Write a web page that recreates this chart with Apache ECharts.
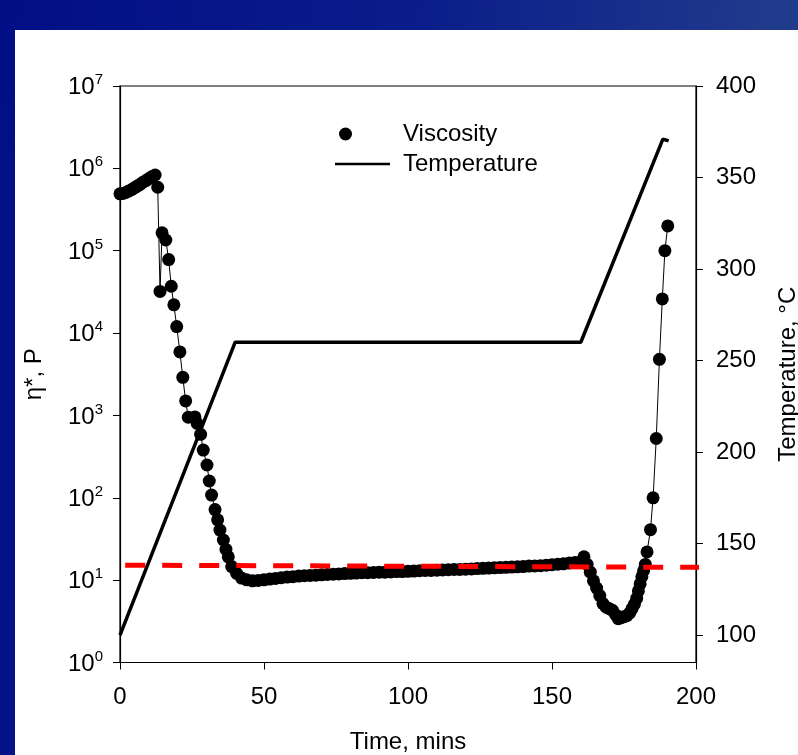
<!DOCTYPE html>
<html>
<head>
<meta charset="utf-8">
<script src="https://cdn.jsdelivr.net/npm/echarts@6/dist/echarts.min.js"></script>
<style>
html, body { margin: 0; padding: 0; }
#wrap { position: relative; width: 798px; height: 755px; background: linear-gradient(100deg, #020e86 0%, #0a1d8a 45%, #2a478c 100%); }
#panel { position: absolute; left: 15px; top: 30px; width: 783px; height: 725px; background: #fff; }
#main { position: absolute; left: 0; top: 0; width: 798px; height: 755px; }
</style>
</head>
<body>
<div id="wrap"><div id="panel"></div><div id="main"></div></div>
<script>
// viscosity (P) vs time (min)
var viscTime = [0, 1, 2, 3, 4, 5, 6, 7, 8, 9, 10, 11, 12.2, 13.1, 13.9, 14.6, 15.9, 16.9, 17.8, 18.7, 19.7,
  20.8, 21.8, 22.8, 23.7, 26.0, 26.8, 28.0, 28.9, 30.2, 31.0, 31.8, 33.0, 33.9, 34.7, 35.9, 36.8, 37.6,
  38.8, 40.5, 42.2, 44, 46, 48, 50, 52, 54, 56, 58, 60, 62, 64, 66, 68, 70, 72, 74, 76, 78, 80, 82, 84,
  86, 88, 90, 92, 94, 96, 98, 100, 102, 104, 106, 108, 110, 112, 114, 116, 118, 120, 122, 124, 126, 128,
  130, 132, 134, 136, 138, 140, 142, 144, 146, 148, 150, 152, 154, 156, 158, 160, 161.1, 162.2, 163.3,
  164.4, 165.5, 166.6, 167.7, 168.8, 169.9, 171.0, 172.1, 173.0, 174.0, 175.0, 176.0, 177.0, 177.8,
  178.6, 179.4, 180.0, 180.6, 181.2, 181.8, 182.4, 183.0, 184.2, 185.1, 186.2, 187.3, 188.3, 189.2, 190.2];
var viscValue = [4.9e5, 4.95e5, 5.1e5, 5.3e5, 5.5e5, 5.8e5, 6.1e5, 6.4e5, 6.8e5, 7.1e5, 7.5e5, 7.9e5, 8.3e5,
  5.9e5, 3.2e4, 1.65e5, 1.35e5, 7.8e4, 3.7e4, 2.2e4, 1.2e4,
  5.9e3, 2.9e3, 1.5e3, 950, 960, 800, 590, 380, 250, 160, 108, 72, 54, 40.5, 30.7, 23.6, 19.2,
  14.6, 12.1, 10.6, 10.1, 9.8, 9.9, 10.1, 10.3, 10.5, 10.7, 10.9, 11.0, 11.2, 11.3, 11.4, 11.5, 11.6, 11.7, 11.8, 11.9, 12.0, 12.1, 12.2, 12.3,
  12.3, 12.4, 12.5, 12.5, 12.6, 12.7, 12.7, 12.8, 12.9, 13.0, 13.1, 13.1, 13.2, 13.3, 13.4, 13.5, 13.5, 13.6, 13.7, 13.8, 13.9, 14.0,
  14.1, 14.2, 14.3, 14.4, 14.5, 14.6, 14.8, 14.9, 15.0, 15.2, 15.4, 15.6, 15.8, 16.1, 16.4, 16.8, 19.2, 15.5, 12.5,
  9.8, 8.0, 6.5, 5.2, 4.7, 4.5, 4.3, 3.8, 3.4, 3.5, 3.6, 3.7, 4.0, 4.5,
  5.1, 6.0, 7.4, 9.0, 11.0, 13.0, 15.5, 22, 41, 100, 525, 4800, 26000, 1.0e5, 2.0e5];

// temperature (°C) vs time (min)
var tempTime = [0, 40, 160, 188.5, 190.5];
var tempValue = [100, 260, 260, 371, 370];

// red dashed reference line
var refTime = [1.8, 201.5];
var refValue = [15.2, 14.3];

var xTicks = [0, 50, 100, 150, 200];
var tempTicks = [100, 150, 200, 250, 300, 350, 400];

var FONT = 'Liberation Sans';

function pairs(xs, ys) {
  var out = [];
  for (var i = 0; i < xs.length; i++) out.push([xs[i], ys[i]]);
  return out;
}

var chart = echarts.init(document.getElementById('main'), null, { renderer: 'canvas' });

var option = {
  animation: false,
  backgroundColor: 'transparent',
  textStyle: { fontFamily: FONT, color: '#000' },
  grid: { left: 120, right: 102, top: 86, bottom: 92.5, outerBoundsMode: 'none', containLabel: false,
    show: true, borderColor: '#000', borderWidth: 1.2, backgroundColor: 'transparent' },
  legend: [
    {
      data: [{ name: 'Viscosity', icon: 'circle' }],
      left: 339, top: 122, padding: 0, itemWidth: 13, itemHeight: 13, selectedMode: false,
      textStyle: { fontSize: 24, fontFamily: FONT, color: '#000', padding: [0, 0, 0, 46] }
    },
    {
      data: [{ name: 'Temperature', icon: 'rect' }],
      left: 335, top: 152, padding: 0, itemWidth: 55, itemHeight: 2.5, selectedMode: false,
      itemStyle: { color: '#000', borderWidth: 0 },
      textStyle: { fontSize: 24, fontFamily: FONT, color: '#000', padding: [0, 0, 0, 8] }
    }
  ],
  xAxis: {
    type: 'value', min: 0, max: 200, interval: 50,
    name: 'Time, mins', nameLocation: 'middle', nameGap: 68,
    nameTextStyle: { fontSize: 24, fontFamily: FONT, color: '#000' },
    axisLine: { lineStyle: { color: '#000', width: 1.2 } },
    axisTick: { length: 7, lineStyle: { color: '#000' } },
    axisLabel: { fontSize: 24, fontFamily: FONT, color: '#000', margin: 23,
      customValues: xTicks },
    splitLine: { show: false }
  },
  yAxis: [
    {
      type: 'log', logBase: 10, min: 1, max: 1e7, position: 'left',
      name: 'η*, P', nameLocation: 'middle', nameGap: 74,
      nameTextStyle: { fontSize: 24, fontFamily: FONT, color: '#000' },
      axisLine: { show: true, lineStyle: { color: '#000', width: 1.2 } },
      axisTick: { show: true, length: 7, lineStyle: { color: '#000' } },
      minorTick: { show: false },
      splitLine: { show: false },
      axisLabel: {
        margin: 17, color: '#000',
        formatter: function (v) {
          var e = Math.round(Math.log(v) / Math.LN10);
          return '{b|10}{s|' + e + '}';
        },
        rich: {
          b: { fontSize: 24, fontFamily: FONT, color: '#000', verticalAlign: 'bottom', lineHeight: 27 },
          s: { fontSize: 15, fontFamily: FONT, color: '#000', verticalAlign: 'top', lineHeight: 15 }
        }
      }
    },
    {
      type: 'value', min: 85, max: 400, position: 'right',
      name: 'Temperature, °C', nameLocation: 'middle', nameGap: 80,
      nameTextStyle: { fontSize: 24, fontFamily: FONT, color: '#000' },
      axisLine: { show: true, lineStyle: { color: '#000', width: 1.2 } },
      axisTick: { show: true, length: 7, lineStyle: { color: '#000' }, customValues: tempTicks },
      axisLabel: { fontSize: 24, fontFamily: FONT, color: '#000', margin: 20, customValues: tempTicks },
      splitLine: { show: false }
    }
  ],
  series: [
    {
      name: 'Temperature', type: 'line', yAxisIndex: 1,
      data: pairs(tempTime, tempValue),
      symbol: 'none', lineStyle: { color: '#000', width: 3.5 }, itemStyle: { color: '#000' },
      z: 2
    },
    {
      name: 'Viscosity', type: 'line', yAxisIndex: 0,
      data: pairs(viscTime, viscValue),
      symbol: 'circle', symbolSize: 13, showAllSymbol: true,
      lineStyle: { color: '#000', width: 1 }, itemStyle: { color: '#000' },
      z: 3
    },
    {
      name: 'ref', type: 'line', yAxisIndex: 0, clip: false,
      data: pairs(refTime, refValue),
      symbol: 'none', lineStyle: { color: '#ff0000', width: 5, type: [20, 17] },
      z: 4
    }
  ]
};

chart.setOption(option);
</script>
</body>
</html>
